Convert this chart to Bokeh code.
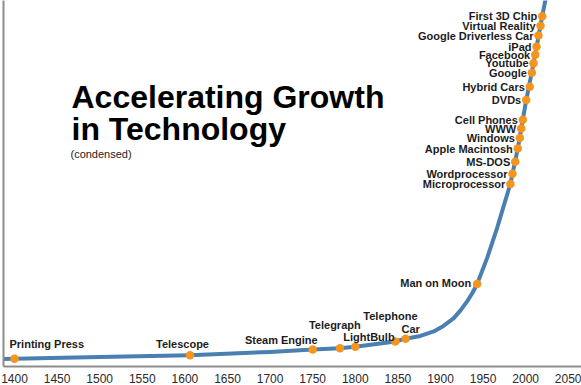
from bokeh.plotting import figure
from bokeh.models import ColumnDataSource, FixedTicker, Label
from bokeh.core.properties import value
from bokeh.embed import file_html
from bokeh.resources import INLINE

# ---- data (value = arbitrary "growth" units) ----
event_names = ["Printing Press", "Telescope", "Steam Engine", "Telegraph", "LightBulb",
               "Telephone", "Car", "Man on Moon", "Microprocessor", "Wordprocessor",
               "MS-DOS", "Apple Macintosh", "Windows", "WWW", "Cell Phones", "DVDs",
               "Hybrid Cars", "Google", "Youtube", "Facebook", "iPad",
               "Google Driverless Car", "Virtual Reality", "First 3D Chip"]
event_years = [1400, 1606, 1750, 1782, 1800, 1847, 1859, 1943, 1982, 1984.5,
               1987.7, 1990.7, 1993.1, 1994.7, 1996.6, 2000.6, 2004.8, 2007.2,
               2009.2, 2011.2, 2012.7, 2015, 2017.4, 2019.4]
event_values = [7.7, 11.3, 17, 18.3, 19.7, 25, 27.7, 82.3, 182, 192.3,
                204.3, 217.3, 228, 237.3, 246, 265.7, 279, 293,
                302.3, 311, 319, 330, 339.7, 349.3]

curve_years = [1386, 1400, 1500, 1606, 1700, 1750, 1782, 1800, 1847, 1859, 1876.5,
               1892, 1903.5, 1915.6, 1923.5, 1931.3, 1937.6, 1943, 1954.8, 1966.5,
               1974.3, 1982, 1990.7, 2000.6, 2009.2, 2019.4, 2023.5]
curve_values = [7.5, 7.7, 9.5, 11.3, 14.5, 17, 18.3, 19.7, 25, 27.7, 30.5,
                35, 40.5, 48.3, 56, 65, 73.5, 82.3, 108.3, 138.3,
                160.5, 182, 217.3, 265.7, 302.3, 349.3, 367]

tick_years = [1400, 1450, 1500, 1550, 1600, 1650, 1700, 1750, 1800, 1850, 1900,
              1950, 2000, 2050]

# ---- label layout (alignment, pixel offsets from the dot) ----
label_align = ["left", "left", "right", "left", "left", "left", "left", "right"] + ["right"] * 16
label_dx = [-5, -34, 5, -31, -12, -32, -4, -6] + [-5] * 16
label_dy = [-15, -11, -9, -23, -10, -25, -10, -1] + [0] * 16

LINE = "#4a7fb2"
DOT = "#f7941d"
AXIS = "#8c8c8c"
FONT = "Liberation Sans"

p = figure(width=581, height=385, x_range=(1387.1, 2065.5), y_range=(0, 365),
           output_backend="svg", toolbar_location=None, min_border=0,
           background_fill_color="white", border_fill_color="white")
p.grid.visible = False
p.outline_line_color = None

xa = p.xaxis[0]
xa.ticker = FixedTicker(ticks=tick_years)
xa.major_tick_out = 0
xa.major_tick_in = 0
xa.minor_tick_out = 0
xa.minor_tick_in = 0
xa.major_label_standoff = 7
xa.major_label_text_font = FONT
xa.major_label_text_font_size = "12px"
xa.major_label_text_color = "#2a2a2a"
xa.axis_line_color = AXIS
xa.axis_line_width = 2

ya = p.yaxis[0]
ya.ticker = FixedTicker(ticks=[])
ya.major_tick_out = 0
ya.major_tick_in = 0
ya.minor_tick_out = 0
ya.minor_tick_in = 0
ya.major_label_standoff = 0
ya.major_label_text_font_size = "0px"
ya.axis_line_color = AXIS
ya.axis_line_width = 2
p.min_border_left = 3

p.line(curve_years, curve_values, line_color=LINE, line_width=4, line_join="round")
p.scatter(event_years, event_values, size=8.5, fill_color=DOT, line_color=None)

for align in ("left", "right"):
    idx = [i for i, a in enumerate(label_align) if a == align]
    src = ColumnDataSource(dict(
        x=[event_years[i] for i in idx],
        y=[event_values[i] for i in idx],
        t=[event_names[i] for i in idx],
        dx=[label_dx[i] for i in idx],
        dy=[label_dy[i] for i in idx],
    ))
    p.text(x="x", y="y", text="t", source=src, x_offset="dx", y_offset="dy",
           text_align=align, text_baseline="middle", text_font=value(FONT),
           text_font_style="bold", text_font_size="11px", text_color="#1c1c1c")

p.add_layout(Label(x=1466.9, y=268.3, text="Accelerating Growth", text_font=FONT,
                   text_font_style="bold", text_font_size="32px",
                   text_color="#000000", text_baseline="alphabetic"))
p.add_layout(Label(x=1466.9, y=236.7, text="in Technology", text_font=FONT,
                   text_font_style="bold", text_font_size="32px",
                   text_color="#000000", text_baseline="alphabetic"))
p.add_layout(Label(x=1465.7, y=211.5, text="(condensed)", text_font=FONT,
                   text_font_size="11px", text_color="#222222",
                   text_baseline="alphabetic"))

open("out.html", "w").write(file_html(p, INLINE))
